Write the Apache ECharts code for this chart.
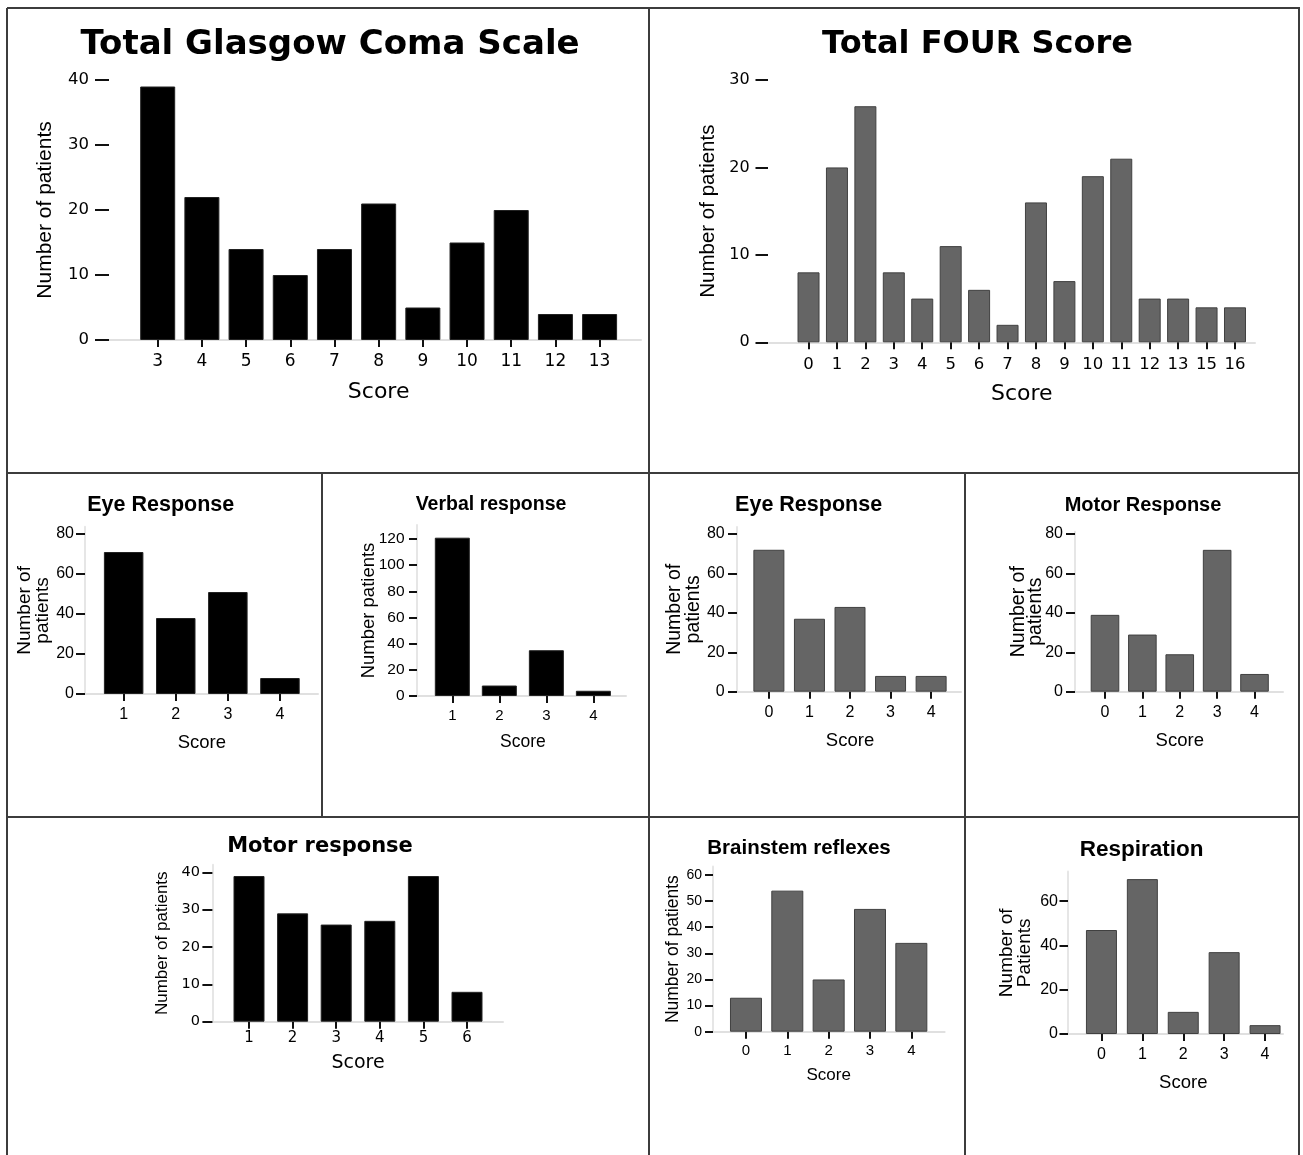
<!DOCTYPE html>
<html>
<head>
<meta charset="utf-8">
<title>GCS and FOUR score distributions</title>
<script src="https://cdn.jsdelivr.net/npm/echarts@6/dist/echarts.min.js"></script>
<style>
  html, body { margin: 0; padding: 0; background: #fff; }
  #chart { width: 1303px; height: 1155px; }
</style>
</head>
<body>
<div id="chart"></div>
<script>
// ---- values ----
var gcsScores = ['3', '4', '5', '6', '7', '8', '9', '10', '11', '12', '13'];
var gcsCounts = [39, 22, 14, 10, 14, 21, 5, 15, 20, 4, 4];
var gcsTicks = [0, 10, 20, 30, 40];

var fourScores = ['0', '1', '2', '3', '4', '5', '6', '7', '8', '9', '10', '11', '12', '13', '15', '16'];
var fourCounts = [8, 20, 27, 8, 5, 11, 6, 2, 16, 7, 19, 21, 5, 5, 4, 4];
var fourTicks = [0, 10, 20, 30];

var gcsEyeScores = ['1', '2', '3', '4'];
var gcsEyeCounts = [71, 38, 51, 8];
var gcsEyeTicks = [0, 20, 40, 60, 80];

var gcsVerbalScores = ['1', '2', '3', '4'];
var gcsVerbalCounts = [121, 8, 35, 4];
var gcsVerbalTicks = [0, 20, 40, 60, 80, 100, 120];

var fourEyeScores = ['0', '1', '2', '3', '4'];
var fourEyeCounts = [72, 37, 43, 8, 8];
var fourEyeTicks = [0, 20, 40, 60, 80];

var fourMotorScores = ['0', '1', '2', '3', '4'];
var fourMotorCounts = [39, 29, 19, 72, 9];
var fourMotorTicks = [0, 20, 40, 60, 80];

var gcsMotorScores = ['1', '2', '3', '4', '5', '6'];
var gcsMotorCounts = [39, 29, 26, 27, 39, 8];
var gcsMotorTicks = [0, 10, 20, 30, 40];

var brainstemScores = ['0', '1', '2', '3', '4'];
var brainstemCounts = [13, 54, 20, 47, 34];
var brainstemTicks = [0, 10, 20, 30, 40, 50, 60];

var respScores = ['0', '1', '2', '3', '4'];
var respCounts = [47, 70, 10, 37, 4];
var respTicks = [0, 20, 40, 60];

// ---- panel layout (pixels) ----
var WIDE = 'DejaVu Sans';
var ARIAL = 'Liberation Sans';

var panels = [
  { title: 'Total Glasgow Coma Scale', tx: 330, ty: 45, tSize: 34, tFont: WIDE, font: WIDE,
    cats: gcsScores, vals: gcsCounts, ticks: gcsTicks, max: 40,
    axisX: 109, lineEnd: 641, bandL: 135.6, bandR: 621.7, y0: 340, yTop: 80,
    tickLen: 14, yLabGap: 20, yLabSize: 16.5, xLabSize: 17, xLabY: 360.7,
    scoreY: 390.7, scoreSize: 22, yName: 'Number of patients', nameSize: 21, nameLH: 21, nameCx: 45,
    barW: 35, gray: false, yLine: false },
  { title: 'Total FOUR Score', tx: 977.5, ty: 45, tSize: 32, tFont: WIDE, font: WIDE,
    cats: fourScores, vals: fourCounts, ticks: fourTicks, max: 30,
    axisX: 768, lineEnd: 1255, bandL: 794.3, bandR: 1249.2, y0: 342.3, yTop: 80,
    tickLen: 12.5, yLabGap: 18.4, yLabSize: 16, xLabSize: 16.5, xLabY: 363.3,
    scoreY: 393.3, scoreSize: 22, yName: 'Number of patients', nameSize: 20.5, nameLH: 20.5, nameCx: 708,
    barW: 22, gray: true, yLine: false },
  { title: 'Eye Response', tx: 160.7, ty: 505, tSize: 21.5, tFont: ARIAL, font: ARIAL,
    cats: gcsEyeScores, vals: gcsEyeCounts, ticks: gcsEyeTicks, max: 83.6,
    axisX: 85, lineEnd: 318, bandL: 97.6, bandR: 306, y0: 694, yTop: 526.8,
    tickLen: 9, yLabGap: 11, yLabSize: 16, xLabSize: 16, xLabY: 714,
    scoreY: 741.7, scoreSize: 18.5, yName: 'Number of\npatients', nameSize: 19, nameLH: 18.5, nameCx: 34,
    barW: 39.5, gray: false, yLine: true },
  { title: 'Verbal response', tx: 491, ty: 504, tSize: 19.5, tFont: ARIAL, font: ARIAL,
    cats: gcsVerbalScores, vals: gcsVerbalCounts, ticks: gcsVerbalTicks, max: 130.7,
    axisX: 417, lineEnd: 626, bandL: 428.8, bandR: 616.9, y0: 696, yTop: 525,
    tickLen: 8, yLabGap: 12.5, yLabSize: 15.5, xLabSize: 15, xLabY: 715,
    scoreY: 740.7, scoreSize: 17.5, yName: 'Number patients', nameSize: 18.5, nameLH: 18.5, nameCx: 369,
    barW: 35, gray: false, yLine: true },
  { title: 'Eye Response', tx: 808.6, ty: 505, tSize: 21.5, tFont: ARIAL, font: ARIAL,
    cats: fourEyeScores, vals: fourEyeCounts, ticks: fourEyeTicks, max: 83.6,
    axisX: 737, lineEnd: 961, bandL: 748.6, bandR: 951.4, y0: 691.7, yTop: 526.9,
    tickLen: 9, yLabGap: 12.3, yLabSize: 16, xLabSize: 16, xLabY: 711.7,
    scoreY: 740, scoreSize: 18.5, yName: 'Number of\npatients', nameSize: 19.5, nameLH: 18.6, nameCx: 684,
    barW: 31, gray: true, yLine: true },
  { title: 'Motor Response', tx: 1143, ty: 505, tSize: 20, tFont: ARIAL, font: ARIAL,
    cats: fourMotorScores, vals: fourMotorCounts, ticks: fourMotorTicks, max: 81.2,
    axisX: 1075, lineEnd: 1283, bandL: 1086.3, bandR: 1273.2, y0: 691.7, yTop: 531.7,
    tickLen: 9, yLabGap: 12, yLabSize: 16, xLabSize: 16, xLabY: 711.7,
    scoreY: 739.3, scoreSize: 18.5, yName: 'Number of\npatients', nameSize: 19.5, nameLH: 17, nameCx: 1027.5,
    barW: 28.6, gray: true, yLine: true },
  { title: 'Motor response', tx: 320, ty: 846.7, tSize: 21, tFont: WIDE, font: WIDE,
    cats: gcsMotorScores, vals: gcsMotorCounts, ticks: gcsMotorTicks, max: 42,
    axisX: 212.4, lineEnd: 503, bandL: 227.2, bandR: 488.8, y0: 1021.7, yTop: 864.8,
    tickLen: 10, yLabGap: 12.4, yLabSize: 14.5, xLabSize: 15, xLabY: 1037.7,
    scoreY: 1062.3, scoreSize: 19, yName: 'Number of patients', nameSize: 17, nameLH: 17, nameCx: 162,
    barW: 31, gray: false, yLine: true },
  { title: 'Brainstem reflexes', tx: 799, ty: 848.3, tSize: 20.5, tFont: ARIAL, font: ARIAL,
    cats: brainstemScores, vals: brainstemCounts, ticks: brainstemTicks, max: 63.2,
    axisX: 713, lineEnd: 944.6, bandL: 725.3, bandR: 932, y0: 1031.7, yTop: 866.6,
    tickLen: 8, yLabGap: 11, yLabSize: 14, xLabSize: 15, xLabY: 1049.7,
    scoreY: 1074.3, scoreSize: 17, yName: 'Number of patients', nameSize: 17.5, nameLH: 17.5, nameCx: 672.8,
    barW: 32, gray: true, yLine: true },
  { title: 'Respiration', tx: 1141.7, ty: 850, tSize: 22.5, tFont: ARIAL, font: ARIAL,
    cats: respScores, vals: respCounts, ticks: respTicks, max: 73.4,
    axisX: 1068, lineEnd: 1283, bandL: 1081, bandR: 1285.5, y0: 1034, yTop: 871.6,
    tickLen: 8.5, yLabGap: 10, yLabSize: 16, xLabSize: 16, xLabY: 1054,
    scoreY: 1081.7, scoreSize: 18.5, yName: 'Number of\nPatients', nameSize: 19, nameLH: 18.5, nameCx: 1016,
    barW: 31, gray: true, yLine: true }
];

var grids = [], xAxes = [], yAxes = [], series = [], titles = [];

panels.forEach(function (p) {
  var h = p.y0 - p.yTop;
  var nLines = p.yName.split('\n').length;

  // frame grid: carries the light base line and the y ticks/labels
  var gFrame = grids.length;
  grids.push({ left: p.axisX, top: p.yTop, width: p.lineEnd - p.axisX, height: h, outerBoundsMode: 'none' });
  xAxes.push({
    gridIndex: gFrame, type: 'value', min: 0, max: 1,
    axisLine: { show: true, onZero: false, lineStyle: { color: '#e0e0e0', width: 2 } },
    axisTick: { show: false }, axisLabel: { show: false }, splitLine: { show: false }
  });
  yAxes.push({
    gridIndex: gFrame, type: 'value', min: 0, max: p.max, interval: p.ticks[1] - p.ticks[0],
    axisLine: { show: p.yLine, lineStyle: { color: '#e6e6e6', width: 2 } },
    axisTick: { show: true, length: p.tickLen, customValues: p.ticks, lineStyle: { color: '#111', width: 2 } },
    axisLabel: { customValues: p.ticks, margin: p.yLabGap, fontSize: p.yLabSize, fontFamily: p.font, color: '#000' },
    splitLine: { show: false },
    name: p.yName, nameLocation: 'middle', nameMoveOverlap: false,
    nameGap: (p.axisX - p.nameCx) - nLines * p.nameLH / 2,
    nameTextStyle: { fontSize: p.nameSize, lineHeight: p.nameLH, fontFamily: ARIAL, color: '#000' }
  });

  // bar grid: one band per score
  var gBars = grids.length;
  grids.push({ left: p.bandL, top: p.yTop, width: p.bandR - p.bandL, height: h, outerBoundsMode: 'none' });
  xAxes.push({
    gridIndex: gBars, type: 'category', data: p.cats,
    axisLine: { show: false },
    axisTick: { show: true, alignWithLabel: true, length: 7, lineStyle: { color: '#111', width: 2 } },
    axisLabel: { interval: 0, margin: p.xLabY - p.y0 - 0.45 * p.xLabSize, fontSize: p.xLabSize, fontFamily: p.font, color: '#000' },
    name: 'Score', nameLocation: 'middle', nameMoveOverlap: false,
    nameGap: p.scoreY - p.y0 - 0.45 * p.scoreSize,
    nameTextStyle: { fontSize: p.scoreSize, fontFamily: p.font, color: '#000' }
  });
  yAxes.push({ gridIndex: gBars, type: 'value', min: 0, max: p.max, show: false });

  series.push({
    type: 'bar', xAxisIndex: xAxes.length - 1, yAxisIndex: yAxes.length - 1,
    data: p.vals, barWidth: p.barW, silent: true,
    itemStyle: p.gray
      ? { color: '#656565', borderColor: '#404040', borderWidth: 1 }
      : { color: '#000', borderColor: '#222', borderWidth: 1 }
  });

  titles.push({
    text: p.title, left: p.tx, top: p.ty - 0.5 * p.tSize, textAlign: 'center', padding: 0,
    textStyle: { fontSize: p.tSize, fontWeight: 'bold', fontFamily: p.tFont, color: '#000' }
  });
});

// panel frame
var frameLines = [
  [7, 8, 1300, 8], [7, 8, 7, 1155], [1299, 8, 1299, 1155], [649, 8, 649, 1155],
  [7, 473, 1299, 473], [7, 817, 1299, 817], [322, 473, 322, 817], [965, 473, 965, 1155]
];
var graphics = frameLines.map(function (l) {
  return { type: 'line', silent: true, shape: { x1: l[0], y1: l[1], x2: l[2], y2: l[3] },
           style: { stroke: '#3c3c3c', lineWidth: 2 } };
});

var chart = echarts.init(document.getElementById('chart'));
chart.setOption({
  backgroundColor: '#fff',
  animation: false,
  title: titles,
  grid: grids,
  xAxis: xAxes,
  yAxis: yAxes,
  series: series,
  graphic: graphics
});
</script>
</body>
</html>
